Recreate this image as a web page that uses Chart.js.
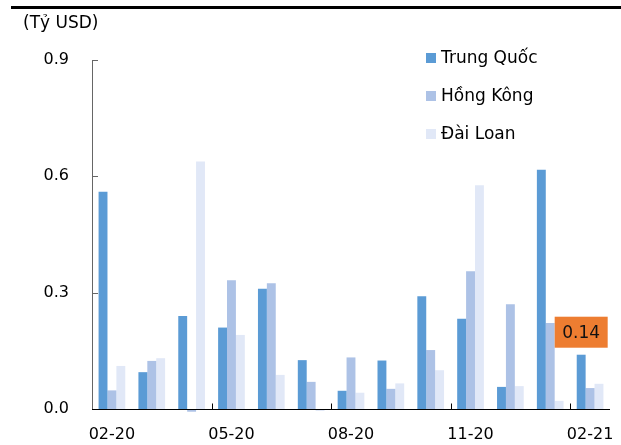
<!DOCTYPE html>
<html>
<head>
<meta charset="utf-8">
<script src="https://cdn.jsdelivr.net/npm/chart.js@4/dist/chart.umd.min.js"></script>
<style>
  html, body { margin: 0; padding: 0; background: #fff; }
  #wrap { position: relative; width: 621px; height: 445px; overflow: hidden; }
  #rule { position: absolute; left: 11px; top: 6px; width: 610px; height: 3px; background: #000; }
  #unit { position: absolute; left: 23px; top: 12px; font: 17px "DejaVu Sans", sans-serif; color: #000; }
  canvas { position: absolute; left: 0; top: 0; }
</style>
</head>
<body>
<div id="wrap">
  <canvas id="c" width="621" height="445"></canvas>
  <div id="rule"></div>
  <div id="unit">(Tỷ USD)</div>
</div>
<script>
// Monthly values, billion USD
const categories = ['02-20', '03-20', '04-20', '05-20', '06-20', '07-20', '08-20',
                    '09-20', '10-20', '11-20', '12-20', '01-21', '02-21'];
const trungQuoc = [0.56, 0.095, 0.24, 0.21, 0.31, 0.126, 0.047, 0.125, 0.291, 0.233, 0.057, 0.617, 0.14];
const hongKong  = [0.048, 0.124, -0.007, 0.332, 0.324, 0.07, 0.133, 0.052, 0.152, 0.355, 0.27, 0.222, 0.054];
const daiLoan   = [0.111, 0.131, 0.638, 0.191, 0.088, -0.005, 0.042, 0.066, 0.1, 0.577, 0.059, 0.021, 0.065];
const seriesNames = ['Trung Quốc', 'Hồng Kông', 'Đài Loan'];
const yTicks = [0, 0.3, 0.6, 0.9];
const labelStep = 3;          // every third month is labelled
const calloutIndex = 12;      // value box on the last Trung Quốc bar

const FONT = '"DejaVu Sans", sans-serif';

// Category axis line on top of the bars, plus inward tick marks on both axes
const tickMarks = {
  id: 'tickMarks',
  afterDatasetsDraw(chart) {
    const { ctx, scales: { x, y }, chartArea } = chart;
    const base = Math.round(y.getPixelForValue(0)) + 0.5;
    ctx.save();
    ctx.lineWidth = 1;
    ctx.strokeStyle = '#000';
    ctx.beginPath();
    ctx.moveTo(chartArea.left, base);
    ctx.lineTo(chartArea.right, base);
    ctx.stroke();
    for (let i = labelStep; i < categories.length; i += labelStep) {
      const px = Math.round((x.getPixelForValue(i - 1) + x.getPixelForValue(i)) / 2) + 0.5;
      ctx.beginPath();
      ctx.moveTo(px, base);
      ctx.lineTo(px, base - 6);
      ctx.stroke();
    }
    ctx.strokeStyle = '#666';
    yTicks.slice(1).forEach(v => {
      const py = Math.round(y.getPixelForValue(v)) + 0.5;
      ctx.beginPath();
      ctx.moveTo(chartArea.left, py);
      ctx.lineTo(chartArea.left + 6, py);
      ctx.stroke();
    });
    ctx.restore();
  }
};

// Vertical legend inside the plot
const sideLegend = {
  id: 'sideLegend',
  afterDraw(chart) {
    const { ctx } = chart;
    const x0 = 426, y0 = 58, gap = 38;
    ctx.save();
    ctx.font = '17px ' + FONT;
    ctx.textBaseline = 'middle';
    ctx.textAlign = 'left';
    chart.data.datasets.forEach((ds, i) => {
      const cy = y0 + i * gap;
      ctx.fillStyle = ds.backgroundColor;
      ctx.fillRect(x0, cy - 5, 10, 10);
      ctx.fillStyle = '#000';
      ctx.fillText(ds.label, x0 + 15, cy + 1);
    });
    ctx.restore();
  }
};

// Orange value box above one bar
const callout = {
  id: 'callout',
  afterDraw(chart) {
    const { ctx } = chart;
    const bar = chart.getDatasetMeta(0).data[calloutIndex];
    const value = chart.data.datasets[0].data[calloutIndex];
    const w = 53, h = 31;
    const cx = bar.x, bottom = bar.y - 7;
    ctx.save();
    ctx.fillStyle = '#ED7D31';
    ctx.fillRect(cx - w / 2, bottom - h, w, h);
    ctx.fillStyle = '#111';
    ctx.font = '17px ' + FONT;
    ctx.textAlign = 'center';
    ctx.textBaseline = 'middle';
    ctx.fillText(value.toFixed(2), cx, bottom - h / 2 + 1);
    ctx.restore();
  }
};

const colors = ['#5B9BD5', '#ADC2E6', '#E1E8F7'];
const seriesData = [trungQuoc, hongKong, daiLoan];

new Chart(document.getElementById('c'), {
  type: 'bar',
  data: {
    labels: categories,
    datasets: seriesData.map((d, i) => ({
      label: seriesNames[i],
      data: d,
      backgroundColor: colors[i],
      borderWidth: 0,
      categoryPercentage: 0.67,
      barPercentage: 1.0,
      clip: false
    }))
  },
  options: {
    responsive: false,
    animation: false,
    events: [],
    layout: { padding: { top: 60, right: 11, left: 0, bottom: 0 } },
    plugins: {
      legend: { display: false },
      title: { display: false },
      tooltip: { enabled: false }
    },
    scales: {
      x: {
        grid: { display: false, drawTicks: false },
        border: { display: false },
        ticks: {
          autoSkip: false,
          maxRotation: 0,
          minRotation: 0,
          padding: 16,
          color: '#000',
          font: { family: FONT, size: 16 },
          callback: (v, i) => (i % labelStep === 0 ? categories[i] : '')
        },
        afterFit(scale) {
          scale.height = 36;
          scale.paddingLeft = 0;
          scale.paddingRight = 0;
        }
      },
      y: {
        min: 0,
        max: 0.9,
        grid: { display: false, drawTicks: false },
        border: { display: true, color: '#666', width: 1 },
        afterBuildTicks(scale) { scale.ticks = yTicks.map(v => ({ value: v })); },
        ticks: {
          padding: 23,
          color: '#000',
          font: { family: FONT, size: 16 },
          callback: v => Number(v).toFixed(1)
        },
        afterFit(scale) {
          scale.width = 92;
          scale.paddingTop = 0;
          scale.paddingBottom = 0;
        }
      }
    }
  },
  plugins: [tickMarks, sideLegend, callout]
});
</script>
</body>
</html>
